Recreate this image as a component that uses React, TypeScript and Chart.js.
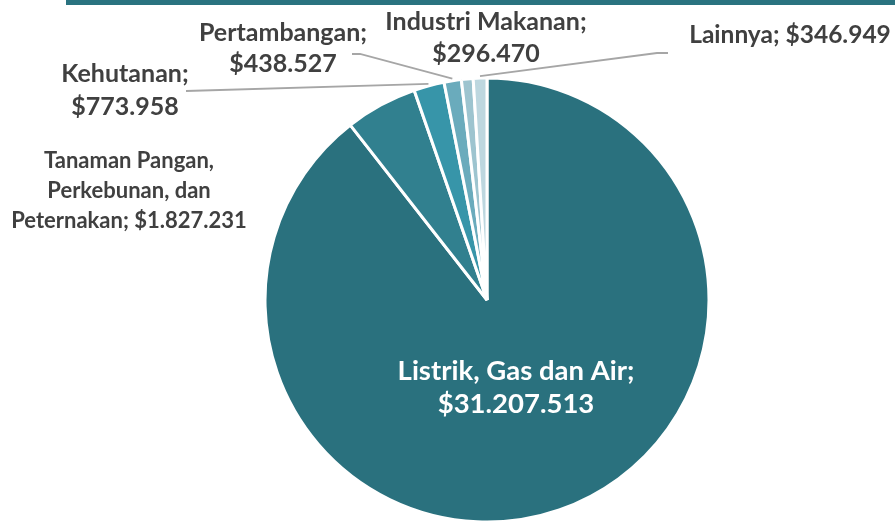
import React, { useEffect, useRef } from "react";
import { Chart, registerables } from "chart.js";

Chart.register(...registerables);

const categories = [
  "Listrik, Gas dan Air",
  "Tanaman Pangan, Perkebunan, dan Peternakan",
  "Kehutanan",
  "Pertambangan",
  "Industri Makanan",
  "Lainnya",
];
const values = [31207513, 1827231, 773958, 438527, 296470, 346949];
const valueLabels = ["$31.207.513", "$1.827.231", "$773.958", "$438.527", "$296.470", "$346.949"];
const sliceColors = ["#2a717e", "#31808f", "#3795a9", "#6aabbc", "#9dc4cf", "#bdd7df"];

type LabelLayout = {
  lines: string[];
  cx: number;
  baselines: number[];
  size: number;
  color: string;
  leader?: number[][];
};

const labelLayouts: LabelLayout[] = [
  { lines: [categories[0] + ";", valueLabels[0]], cx: 516, baselines: [380, 413], size: 27.5, color: "#ffffff" },
  {
    lines: ["Tanaman Pangan,", "Perkebunan, dan", "Peternakan; " + valueLabels[1]],
    cx: 129,
    baselines: [168, 198, 228],
    size: 22,
    color: "#404040",
  },
  { lines: [categories[2] + ";", valueLabels[2]], cx: 125, baselines: [82, 115], size: 25, color: "#404040", leader: [[186, 91]] },
  {
    lines: [categories[3] + ";", valueLabels[3]],
    cx: 283,
    baselines: [41, 72],
    size: 25,
    color: "#404040",
    leader: [[352, 54], [360, 54]],
  },
  { lines: [categories[4] + ";", valueLabels[4]], cx: 486, baselines: [30, 62], size: 25, color: "#404040" },
  {
    lines: [categories[5] + "; " + valueLabels[5]],
    cx: 790,
    baselines: [43],
    size: 24.5,
    color: "#404040",
    leader: [[668, 53], [657, 53]],
  },
];

const decorPlugin = {
  id: "decor",
  beforeDraw(chart: any) {
    const ctx = chart.ctx;
    ctx.save();
    ctx.fillStyle = "#2a7380";
    ctx.fillRect(66, 0, chart.width - 66, 5);
    ctx.restore();
  },
  afterDatasetsDraw(chart: any) {
    const ctx = chart.ctx;
    const meta = chart.getDatasetMeta(0);
    ctx.save();
    meta.data.forEach((arc: any, i: number) => {
      const L = labelLayouts[i];
      if (!L) return;
      const p = arc.getProps(["x", "y", "startAngle", "endAngle", "outerRadius"], true);
      const mid = (p.startAngle + p.endAngle) / 2;
      if (L.leader) {
        const ax = p.x + Math.cos(mid) * (p.outerRadius + 2);
        const ay = p.y + Math.sin(mid) * (p.outerRadius + 2);
        ctx.strokeStyle = "#a6a6a6";
        ctx.lineWidth = 1.8;
        ctx.beginPath();
        ctx.moveTo(L.leader[0][0], L.leader[0][1]);
        for (let k = 1; k < L.leader.length; k++) ctx.lineTo(L.leader[k][0], L.leader[k][1]);
        ctx.lineTo(ax, ay);
        ctx.stroke();
      }
      ctx.fillStyle = L.color;
      ctx.font = `bold ${L.size}px Lato`;
      ctx.textAlign = "center";
      ctx.textBaseline = "alphabetic";
      L.lines.forEach((t, j) => ctx.fillText(t, L.cx, L.baselines[j]));
    });
    ctx.restore();
  },
};

export default function App() {
  const ref = useRef<HTMLCanvasElement | null>(null);
  useEffect(() => {
    if (!ref.current) return;
    const chart = new Chart(ref.current, {
      type: "pie",
      data: {
        labels: categories,
        datasets: [
          {
            data: values,
            backgroundColor: sliceColors,
            borderColor: "#ffffff",
            borderWidth: 3,
            hoverOffset: 0,
          },
        ],
      },
      options: {
        responsive: false,
        animation: false,
        radius: 222,
        layout: { padding: { left: 79, top: 79, right: 0, bottom: 0 } },
        plugins: { legend: { display: false }, tooltip: { enabled: false } },
      } as any,
      plugins: [decorPlugin],
    });
    return () => chart.destroy();
  }, []);
  return (
    <div style={{ position: "absolute", left: 0, top: 0, width: 895, height: 521, background: "#fff" }}>
      <canvas ref={ref} width={895} height={521} style={{ width: 895, height: 521, display: "block" }} />
    </div>
  );
}
